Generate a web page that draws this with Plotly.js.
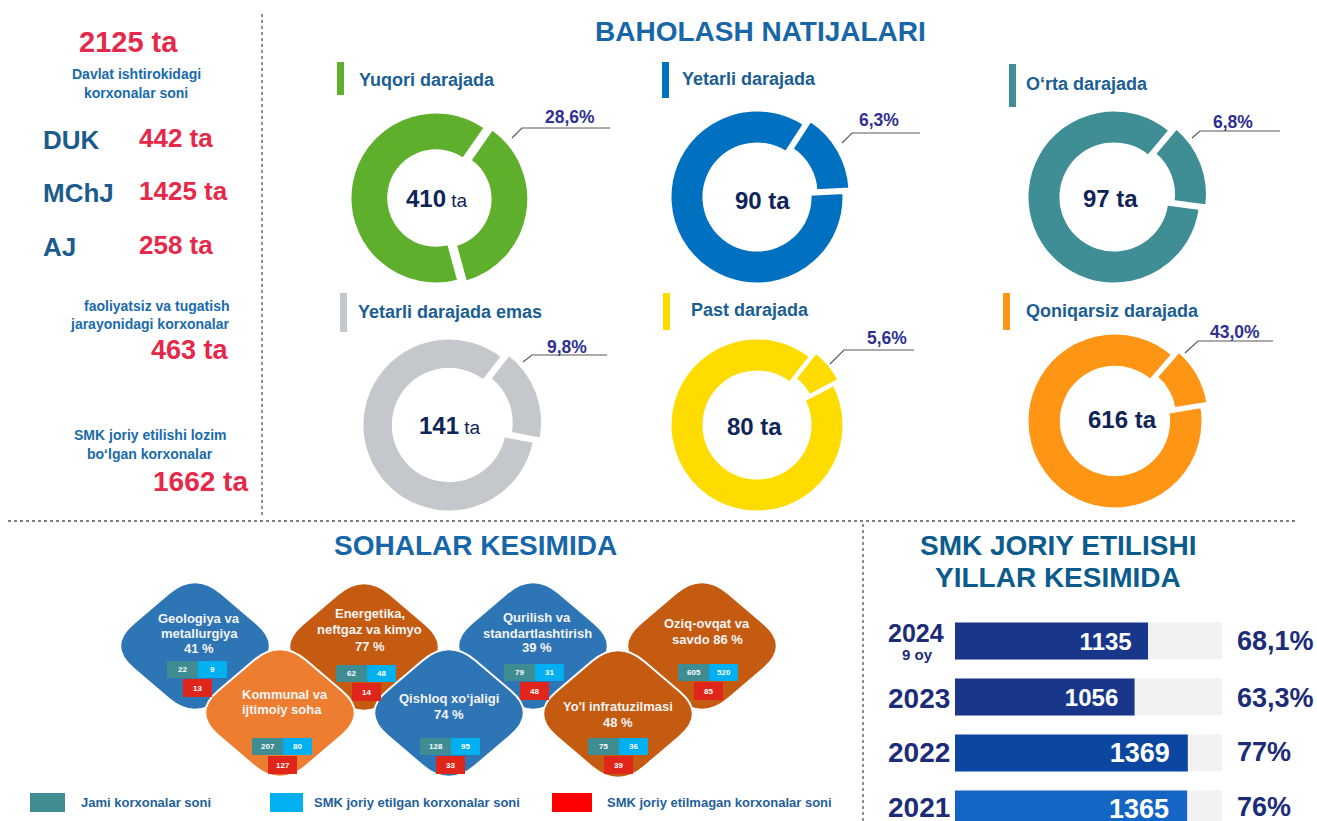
<!DOCTYPE html>
<html><head><meta charset="utf-8">
<script src="https://cdn.plot.ly/plotly-3.0.1.min.js"></script>
<style>html,body{margin:0;padding:0;background:#fff;}#chart{width:1317px;height:821px;}</style>
</head><body><div id="chart"></div>
<script>
// ---------------- DATA ----------------
const totalLabel = '2125 ta';
const totalCaption = ['Davlat ishtirokidagi', 'korxonalar soni'];
const ownershipTypes = ['DUK', 'MChJ', 'AJ'];
const ownershipCounts = [442, 1425, 258];
const inactiveCaption = ['faoliyatsiz va tugatish', 'jarayonidagi korxonalar'];
const inactiveCount = 463;
const smkRequiredCaption = ['SMK joriy etilishi lozim', 'bo‘lgan korxonalar'];
const smkRequiredCount = 1662;

const sectionTitles = ['BAHOLASH NATIJALARI', 'SOHALAR KESIMIDA', 'SMK JORIY ETILISHI', 'YILLAR KESIMIDA'];

const levelNames = ['Yuqori darajada', 'Yetarli darajada', 'O‘rta darajada', 'Yetarli darajada emas', 'Past darajada', 'Qoniqarsiz darajada'];
const levelCounts = [410, 90, 97, 141, 80, 616];
const levelPercents = ['28,6%', '6,3%', '6,8%', '9,8%', '5,6%', '43,0%'];
const levelArcShare = [0.36, 0.15, 0.16, 0.175, 0.067, 0.11]; // highlighted arc, as drawn

const sectorLines = [
  ['Geologiya va', 'metallurgiya', '41 %'],
  ['Energetika,', 'neftgaz va kimyo', '77 %'],
  ['Kommunal va', 'ijtimoiy soha'],
  ['Qishloq xo‘jaligi', '74 %'],
  ['Qurilish va', 'standartlashtirish', '39 %'],
  ['Yo\'l infratuzilmasi', '48 %'],
  ['Oziq-ovqat va', 'savdo 86 %']
];
const sectorTotal = [22, 62, 207, 128, 79, 75, 605];
const sectorSmk = [9, 48, 80, 95, 31, 36, 520];
const sectorNoSmk = [13, 14, 127, 33, 48, 39, 85];
const legendLabels = ['Jami korxonalar soni', 'SMK joriy etilgan korxonalar soni', 'SMK joriy etilmagan korxonalar soni'];

const years = ['2024', '2023', '2022', '2021'];
const yearSub = ['9 oy', '', '', ''];
const smkCounts = [1135, 1056, 1369, 1365];
const smkPercents = ['68,1%', '63,3%', '77%', '76%'];

// ---------------- STYLE / LAYOUT ----------------
const W = 1317, H = 821;
const F = 'Liberation Sans, Arial, sans-serif';
const px = x => x / W, py = y => 1 - y / H;
const RED = '#E6284A', BLUE = '#1A6BAA', DBLUE = '#1C5B8E', NAVY = '#0F2557', PCT = '#2E3192';
const annotations = [], shapes = [], data = [];

function T(x, y, text, size, color, opt = {}) {
  annotations.push({
    xref: 'paper', yref: 'paper', x: px(x), y: py(y),
    text: opt.plain ? text : '<b>' + text + '</b>', showarrow: false,
    xanchor: opt.anchor || 'center', yanchor: 'middle', borderpad: 0,
    font: {size: size, color: color, family: opt.family || F}
  });
}
function rect(x0, y0, x1, y1, color, opt = {}) {
  shapes.push({type: 'rect', xref: 'paper', yref: 'paper', x0: px(x0), x1: px(x1), y0: py(y1), y1: py(y0),
    fillcolor: color, line: {width: opt.lw || 0, color: opt.lc || color}, layer: opt.layer || 'above'});
}
function line(pts, color, width, dash) {
  const d = pts.map((p, i) => (i ? 'L' : 'M') + px(p[0]) + ',' + py(p[1])).join(' ');
  shapes.push({type: 'path', xref: 'paper', yref: 'paper', path: d, line: {color: color, width: width, dash: dash || 'solid'}, layer: 'above'});
}
function rhombus(cx, cy, w, h, t, color) {
  const V = [[cx, cy - h / 2], [cx + w / 2, cy], [cx, cy + h / 2], [cx - w / 2, cy]];
  const f = p => px(p[0]) + ',' + py(p[1]);
  let d = '';
  for (let i = 0; i < 4; i++) {
    const P = V[(i + 3) % 4], C = V[i], N = V[(i + 1) % 4];
    const a = [C[0] + (P[0] - C[0]) * t, C[1] + (P[1] - C[1]) * t];
    const b = [C[0] + (N[0] - C[0]) * t, C[1] + (N[1] - C[1]) * t];
    d += (i === 0 ? 'M' : 'L') + f(a) + ' Q' + f(C) + ' ' + f(b) + ' ';
  }
  shapes.push({type: 'path', xref: 'paper', yref: 'paper', path: d + 'Z', fillcolor: color, line: {color: '#ffffff', width: 2}, layer: 'above'});
}

// separators
line([[262, 14], [262, 516]], '#555', 1.3, 'dot');
line([[8, 521], [1296, 521]], '#555', 1.3, 'dot');
line([[863, 524], [863, 821]], '#555', 1.3, 'dot');

// left column
T(128, 42, totalLabel, 29, RED);
T(136, 74, totalCaption[0], 14, BLUE);
T(136, 93, totalCaption[1], 14, BLUE);
const ownY = [140, 193, 247];
ownershipTypes.forEach((t, i) => {
  T(42, ownY[i], t, 26, DBLUE, {anchor: 'left'});
  T(138, ownY[i] - 2, ownershipCounts[i] + ' ta', 26, RED, {anchor: 'left'});
});
T(230, 306, inactiveCaption[0], 14, BLUE, {anchor: 'right'});
T(230, 324, inactiveCaption[1], 14, BLUE, {anchor: 'right'});
T(230, 350, inactiveCount + ' ta', 27, RED, {anchor: 'right'});
T(150, 435, smkRequiredCaption[0], 14, BLUE);
T(150, 454, smkRequiredCaption[1], 14, BLUE);
T(249, 481, smkRequiredCount + ' ta', 28, RED, {anchor: 'right'});

// titles
T(760, 31, sectionTitles[0], 28, '#1766A8');
T(475, 545, sectionTitles[1], 28, '#1766A8');
T(1058, 545, sectionTitles[2], 28, '#0B5C8C');
T(1058, 577, sectionTitles[3], 28, '#0B5C8C');

// donuts
const donutColors = ['#5DAF2C', '#0070C0', '#3F8D95', '#C4C7CC', '#FFDC00', '#FF9515'];
const donutGeo = [
  {cx: 436, cy: 198, r: 86, hole: 0.55, rot: 35, bar: [337, 62, 95], tx: 358, ty: 80, lead: [[512, 138], [522, 128], [610, 128]], lx: 570, ly: 117, ctx: 437, cty: 198},
  {cx: 757, cy: 197, r: 87, hole: 0.61, rot: 33, bar: [662, 62, 98], tx: 681, ty: 79, lead: [[842, 143], [852, 133], [920, 133]], lx: 879, ly: 120, ctx: 762, cty: 200},
  {cx: 1114, cy: 197, r: 87, hole: 0.61, rot: 40, bar: [1009, 64, 107], tx: 1025, ty: 84, lead: [[1192, 138], [1200, 131], [1280, 131]], lx: 1233, ly: 122, ctx: 1110, cty: 198},
  {cx: 449, cy: 425, r: 87, hole: 0.64, rot: 38, bar: [340, 293, 332], tx: 357, ty: 312, lead: [[523, 362], [532, 355], [607, 355]], lx: 567, ly: 347, ctx: 450, cty: 425},
  {cx: 757, cy: 425, r: 87, hole: 0.61, rot: 38, bar: [663, 293, 330], tx: 690, ty: 310, lead: [[830, 364], [844, 350], [914, 350]], lx: 887, ly: 338, ctx: 755, cty: 427},
  {cx: 1115, cy: 421, r: 88, hole: 0.61, rot: 41, bar: [1003, 293, 330], tx: 1025, ty: 311, lead: [[1185, 353], [1198, 341], [1273, 341]], lx: 1235, ly: 332, ctx: 1122, cty: 420}
];
const pull = 0.08;
levelNames.forEach((name, i) => {
  const g = donutGeo[i], half = g.r * (1 + pull);
  data.push({
    type: 'pie', values: [levelArcShare[i], 1 - levelArcShare[i]], sort: false, direction: 'clockwise', rotation: g.rot,
    hole: g.hole, pull: [pull, 0], textinfo: 'none', hoverinfo: 'skip', showlegend: false,
    marker: {colors: [donutColors[i], donutColors[i]], line: {color: '#ffffff', width: 3}},
    domain: {x: [px(g.cx - half), px(g.cx + half)], y: [py(g.cy + half), py(g.cy - half)]}
  });
  rect(g.bar[0], g.bar[1], g.bar[0] + 7, g.bar[2], donutColors[i]);
  T(g.tx, g.ty, name, 18, '#1B5E93', {anchor: 'left'});
  line(g.lead, '#595959', 1.2);
  T(g.lx, g.ly, levelPercents[i], 17.5, PCT);
  const light = (i === 0 || i === 3);
  T(g.ctx, g.cty, light ? '<b>' + levelCounts[i] + '</b><span style="font-size:19px"> ta</span>' : '<b>' + levelCounts[i] + ' ta</b>', 24, NAVY, {plain: true});
});

// sector tiles
const tileColors = ['#2E75B6', '#C55A11', '#ED7D31', '#2E75B6', '#2E75B6', '#C55A11', '#C55A11'];
const tileGeo = [
  {cx: 195, cy: 646, lines: [618, 633, 648], lx: 199, box: [167, 661]},
  {cx: 364, cy: 647, lines: [613, 629, 646], lx: 370, box: [336, 665]},
  {cx: 280, cy: 713, lines: [694, 709], lx: 241, left: true, box: [252, 738]},
  {cx: 449, cy: 713, lines: [698, 714], lx: 449, box: [420, 738]},
  {cx: 533, cy: 646, lines: [617, 633, 647], lx: 537, box: [504, 664]},
  {cx: 618, cy: 714, lines: [706, 722], lx: 618, box: [588, 738]},
  {cx: 702, cy: 646, lines: [623, 639], lx: 707, box: [678, 664]}
];
const tileOrder = [0, 1, 4, 6, 2, 3, 5];
tileOrder.forEach(i => {
  const g = tileGeo[i];
  rhombus(g.cx, g.cy, 176, 150, 0.3, tileColors[i]);
});
const TEAL = '#3F8C93', CYAN = '#00B0F0', BRED = '#E0261B';
sectorLines.forEach((ls, i) => {
  const g = tileGeo[i];
  ls.forEach((l, k) => T(g.lx, g.lines[k], l, 13, '#F4F4F4', {anchor: g.left ? 'left' : 'center'}));
  const bx = g.box[0], by = g.box[1];
  rect(bx, by, bx + 31, by + 17, TEAL);
  rect(bx + 31, by, bx + 60, by + 17, CYAN);
  rect(bx + 16, by + 18, bx + 45, by + 36, BRED);
  T(bx + 15.5, by + 8.5, String(sectorTotal[i]), 8, '#fff');
  T(bx + 45.5, by + 8.5, String(sectorSmk[i]), 8, '#fff');
  T(bx + 30.5, by + 27, String(sectorNoSmk[i]), 8, '#fff');
});

// legend
const legColors = [TEAL, CYAN, '#FF0000'];
const legX = [[30, 65, 80], [270, 303, 313], [552, 592, 606]];
legendLabels.forEach((l, i) => {
  rect(legX[i][0], 793, legX[i][1], 812, legColors[i]);
  T(legX[i][2], 802, l, 13, '#1F5F99', {anchor: 'left'});
});

// SMK by years (bar chart)
const barColors = ['#18378B', '#18378B', '#0B47A1', '#1565C5'];
data.push({
  type: 'bar', orientation: 'h', x: smkCounts, y: years, width: 0.66,
  marker: {color: barColors}, text: smkCounts.map(v => String(v) + '&nbsp;&nbsp;'), texttemplate: '<b>%{text}</b>',
  textposition: 'inside', insidetextanchor: 'end', constraintext: 'none',
  textfont: {color: '#ffffff', size: [24, 24, 27, 27], family: F}, hoverinfo: 'skip', showlegend: false
});
years.forEach((y, i) => {
  shapes.push({type: 'rect', xref: 'x domain', yref: 'y', x0: 0, x1: 1, y0: i - 0.33, y1: i + 0.33, fillcolor: '#F2F2F2', line: {width: 0}, layer: 'below'});
});
const rowY = [641, 698, 752, 807];
years.forEach((y, i) => {
  if (yearSub[i]) {
    T(887, rowY[i] - 8, y, 25, '#1D2C79', {anchor: 'left'});
    T(917, rowY[i] + 13, yearSub[i], 15, '#1D2C79');
  } else {
    T(887, rowY[i], y, 28, '#1D2C79', {anchor: 'left'});
  }
  T(1236, rowY[i], smkPercents[i], 27, '#1D2C79', {anchor: 'left'});
});

const layout = {
  width: W, height: H, margin: {l: 0, r: 0, t: 0, b: 0}, paper_bgcolor: '#ffffff', plot_bgcolor: 'rgba(0,0,0,0)',
  showlegend: false, font: {family: F},
  xaxis: {domain: [955 / W, 1222 / W], range: [0, 1570], visible: false, fixedrange: true},
  yaxis: {domain: [0, py(612)], type: 'category', range: [3.214, -0.518], visible: false, fixedrange: true},
  shapes: shapes, annotations: annotations
};
Plotly.newPlot('chart', data, layout, {staticPlot: true, displayModeBar: false});
</script></body></html>
